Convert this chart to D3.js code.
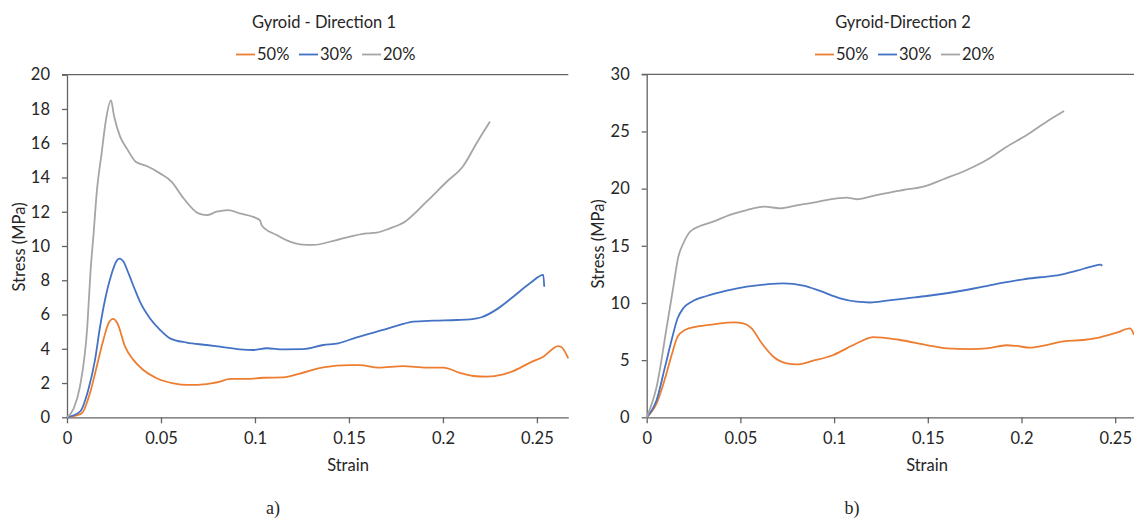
<!DOCTYPE html>
<html>
<head>
<meta charset="utf-8">
<script src="https://cdn.jsdelivr.net/npm/d3@7"></script>
<style>
  html, body { margin: 0; padding: 0; background: #fff; }
  svg { display: block; }
  text { font-family: Lato, "Open Sans", sans-serif; fill: #262626; }
</style>
</head>
<body>
<svg id="fig" width="1134" height="518"></svg>
<script>
// Stress-strain curves of gyroid lattices, [strain, stress (MPa)]
const seriesNames = ["50%", "30%", "20%"];
const seriesColors = ["#ED7D31", "#4472C4", "#A5A5A5"];

const dir1_50 = [[0,0],[0.0078,0.23],[0.0122,1.4],[0.0158,2.95],[0.0193,4.5],[0.0225,5.58],[0.0246,5.74],[0.0268,5.49],[0.0309,4.12],[0.0353,3.35],[0.0406,2.76],[0.0477,2.28],[0.0566,1.98],[0.0645,1.89],[0.0743,1.94],[0.0814,2.08],[0.0867,2.24],[0.0956,2.24],[0.1044,2.31],[0.1151,2.33],[0.1239,2.55],[0.1363,2.92],[0.1505,3.05],[0.1559,3.05],[0.1656,2.9],[0.1789,2.99],[0.1913,2.9],[0.2002,2.9],[0.209,2.6],[0.2161,2.41],[0.2232,2.37],[0.2321,2.51],[0.2374,2.7],[0.2463,3.19],[0.2534,3.54],[0.2613,4.16],[0.2628,4.12],[0.2667,3.44]];
const dir1_30 = [[0,0],[0.0069,0.33],[0.0113,1.6],[0.0149,3.35],[0.0176,5.3],[0.0202,6.85],[0.0238,8.4],[0.0262,9.1],[0.0278,9.26],[0.0300,9.1],[0.0322,8.55],[0.0362,7.43],[0.0388,6.75],[0.0441,5.78],[0.0495,5.1],[0.0548,4.61],[0.0637,4.36],[0.0743,4.22],[0.0814,4.12],[0.092,3.97],[0.0991,3.93],[0.1063,4.03],[0.1151,3.97],[0.1257,3.98],[0.1363,4.22],[0.1443,4.32],[0.1541,4.67],[0.1682,5.1],[0.1771,5.39],[0.1842,5.58],[0.1949,5.64],[0.2073,5.68],[0.2144,5.72],[0.2206,5.84],[0.2286,6.3],[0.2374,7.04],[0.2463,7.82],[0.2534,8.31],[0.2539,7.62]];
const dir1_20 = [[0,0],[0.0035,0.5],[0.0069,1.8],[0.0108,5.3],[0.0125,8.5],[0.0142,10.8],[0.0158,13.1],[0.0184,15.4],[0.0207,17.35],[0.0234,18.5],[0.025,17.6],[0.0282,16.4],[0.0318,15.7],[0.0367,14.9],[0.0424,14.67],[0.0495,14.24],[0.0557,13.75],[0.0619,12.8],[0.0699,11.9],[0.0743,11.8],[0.0796,12.0],[0.0858,12.1],[0.092,11.9],[0.0991,11.7],[0.1027,11.5],[0.1036,11.2],[0.1115,10.64],[0.1186,10.25],[0.1239,10.1],[0.131,10.06],[0.1434,10.35],[0.1594,10.74],[0.1647,10.78],[0.1718,11.03],[0.1798,11.42],[0.1913,12.59],[0.202,13.75],[0.2108,14.67],[0.2179,16.0],[0.225,17.26]];

const dir2_50 = [[0,0],[0.0053,1.22],[0.0098,3.41],[0.0133,5.45],[0.0165,7.05],[0.0204,7.64],[0.0267,7.93],[0.0355,8.13],[0.0462,8.31],[0.0516,8.22],[0.056,7.78],[0.0614,6.47],[0.0676,5.3],[0.0747,4.72],[0.08,4.63],[0.0889,4.95],[0.0996,5.45],[0.1067,6.03],[0.1138,6.61],[0.1209,7.02],[0.1352,6.76],[0.1494,6.32],[0.1601,6.03],[0.1725,5.97],[0.1814,6.03],[0.1921,6.3],[0.1974,6.24],[0.2045,6.09],[0.2134,6.32],[0.2223,6.64],[0.233,6.76],[0.2419,7.0],[0.2508,7.4],[0.2579,7.78],[0.2601,7.2]];
const dir2_30 = [[0,0],[0.0053,1.51],[0.0098,4.43],[0.0133,6.76],[0.0165,8.66],[0.0195,9.53],[0.024,10.11],[0.032,10.61],[0.0427,11.07],[0.0534,11.42],[0.064,11.63],[0.0729,11.72],[0.0836,11.51],[0.0925,11.05],[0.1032,10.41],[0.1121,10.11],[0.1192,10.04],[0.1281,10.2],[0.1387,10.41],[0.1494,10.61],[0.1601,10.85],[0.1725,11.2],[0.1814,11.48],[0.1903,11.77],[0.201,12.07],[0.2099,12.25],[0.2205,12.45],[0.2295,12.82],[0.2383,13.23],[0.2419,13.35],[0.2431,13.26]];
const dir2_20 = [[0,0],[0.0053,2.68],[0.0107,7.9],[0.0142,11.4],[0.0169,14.05],[0.0195,15.2],[0.0231,16.23],[0.0284,16.73],[0.0355,17.11],[0.0444,17.7],[0.0534,18.13],[0.0631,18.42],[0.0711,18.28],[0.08,18.54],[0.0889,18.77],[0.0978,19.07],[0.1067,19.21],[0.1121,19.07],[0.1192,19.3],[0.1245,19.5],[0.1369,19.88],[0.1476,20.17],[0.1583,20.82],[0.1708,21.63],[0.1814,22.5],[0.1921,23.67],[0.2028,24.69],[0.2134,25.86],[0.2227,26.79]];

const strainTicks = [0, 0.05, 0.1, 0.15, 0.2, 0.25];
const strainTickLabels = ["0", "0.05", "0.1", "0.15", "0.2", "0.25"];
const stressTicks1 = [0, 2, 4, 6, 8, 10, 12, 14, 16, 18, 20];
const stressTicks2 = [0, 5, 10, 15, 20, 25, 30];

const panels = [
  { title: "Gyroid - Direction 1", caption: "a)", series: [dir1_50, dir1_30, dir1_20],
    yTicks: stressTicks1, yMax: 20,
    left: 67, width: 501.3, top: 74.7, bottom: 417.3,
    titleX: 324, xTitleX: 348, yTitleX: 20, yTitleY: 247, captionX: 273 },
  { title: "Gyroid-Direction 2", caption: "b)", series: [dir2_50, dir2_30, dir2_20],
    yTicks: stressTicks2, yMax: 30,
    left: 646.7, width: 499.8, top: 74.3, bottom: 417.3,
    titleX: 903, xTitleX: 927, yTitleX: 599, yTitleY: 244, captionX: 852 }
];

const svg = d3.select("#fig");
const axisColor = "#636363";

panels.forEach(p => {
  const x = d3.scaleLinear().domain([0, 0.2667]).range([p.left, p.left + p.width]);
  const y = d3.scaleLinear().domain([0, p.yMax]).range([p.bottom, p.top]);
  const g = svg.append("g");

  // top frame line at the axis maximum
  g.append("line")
    .attr("x1", p.left - 5).attr("x2", p.left + p.width)
    .attr("y1", y(p.yMax)).attr("y2", y(p.yMax))
    .attr("stroke", axisColor).attr("stroke-width", 1.3);

  // y axis
  const ya = g.append("g").attr("transform", `translate(${p.left},0)`)
    .call(d3.axisLeft(y).tickValues(p.yTicks).tickSize(5).tickSizeOuter(0).tickPadding(12)
      .tickFormat(d3.format("d")));
  // x axis
  const xa = g.append("g").attr("transform", `translate(0,${p.bottom})`)
    .call(d3.axisBottom(x).tickValues(strainTicks).tickSize(6).tickSizeOuter(0).tickPadding(9)
      .tickFormat((d, i) => strainTickLabels[i]));
  [ya, xa].forEach(a => {
    a.selectAll("path.domain").attr("stroke", axisColor).attr("stroke-width", 1.3);
    a.selectAll(".tick line").attr("stroke", axisColor).attr("stroke-width", 1.3);
    a.selectAll(".tick text").style("font-family", "Lato, sans-serif").style("font-size", "16.5px").attr("fill", "#262626");
  });

  // curves
  const line = d3.line().x(d => x(d[0])).y(d => y(d[1])).curve(d3.curveMonotoneX);
  p.series.forEach((s, i) => {
    g.append("path").datum(s)
      .attr("d", line)
      .attr("fill", "none")
      .attr("stroke", seriesColors[i])
      .attr("stroke-width", 1.8)
      .attr("stroke-linejoin", "round");
  });

  // titles
  g.append("text").attr("x", p.titleX).attr("y", 28).attr("text-anchor", "middle")
    .style("font-size", "16.5px").text(p.title);

  // legend
  const entryW = 63, lx0 = p.titleX - 88;
  seriesNames.forEach((n, i) => {
    const ex = lx0 + i * entryW;
    g.append("line").attr("x1", ex).attr("x2", ex + 19).attr("y1", 54.5).attr("y2", 54.5)
      .attr("stroke", seriesColors[i]).attr("stroke-width", 1.8);
    g.append("text").attr("x", ex + 21).attr("y", 60).style("font-size", "16.5px").text(n);
  });

  // axis titles
  g.append("text").attr("x", p.xTitleX).attr("y", 471).attr("text-anchor", "middle")
    .style("font-size", "16.5px").text("Strain");
  g.append("text").attr("transform", `translate(${p.yTitleX + 5},${p.yTitleY}) rotate(-90)`)
    .attr("text-anchor", "middle").style("font-size", "16.5px").text("Stress (MPa)");

  // panel caption
  g.append("text").attr("x", p.captionX).attr("y", 514).attr("text-anchor", "middle")
    .style("font-family", "'Liberation Serif', serif").style("font-size", "18px").attr("fill", "#000")
    .text(p.caption);
});
</script>
</body>
</html>
